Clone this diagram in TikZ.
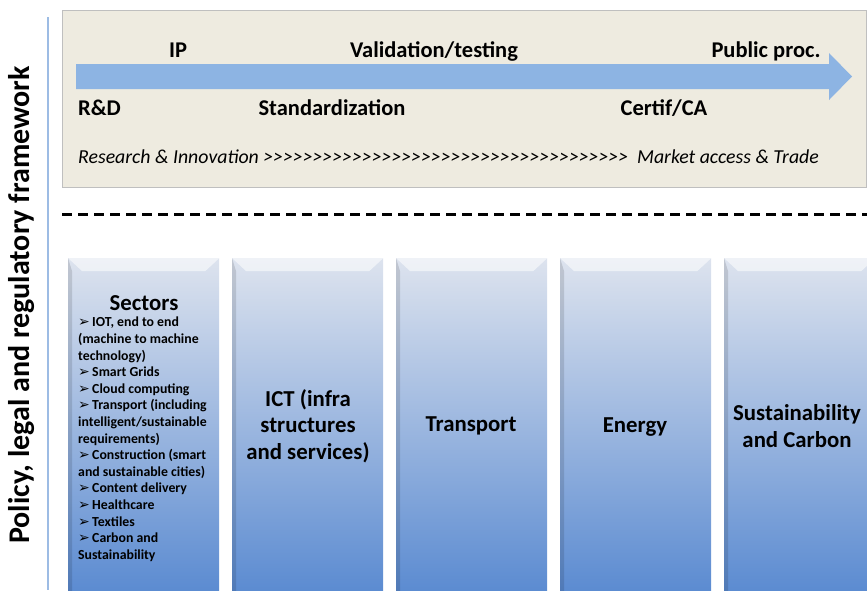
\documentclass[tikz,border=0pt]{standalone}
\usepackage{fontspec}
\setmainfont{Carlito}
\newfontfamily\symfont{DejaVu Sans}
\usetikzlibrary{positioning}

\definecolor{panelfill}{HTML}{EEEBE0}
\definecolor{panelline}{HTML}{BFBFBF}
\definecolor{arrowblue}{HTML}{8DB4E3}
\definecolor{railblue}{HTML}{9DBCE4}
\definecolor{coltop}{HTML}{DDE3EE}
\definecolor{colmid}{HTML}{C2D1EA}
\definecolor{colbot}{HTML}{5B8BD1}

\def\stages{{(178,57)/ip/IP}, {(434,57)/valid/{Validation/testing}}, {(766,57)/public/Public proc.}, {(332,115)/standard/Standardization}, {(664,115)/certif/{Certif/CA}}}
\def\columns{{68/sectors}, {232/ict}, {396/transport}, {560/energy}, {724/carbon}}
\newcommand{\tick}{{\symfont\fontsize{14}{14}\selectfont ➢}\,}
% braces keep the chevrons from turning into guillemets
\def\chevrons{>{}>{}>{}>{}>{}>{}>{}>{}>{}>{}>{}>{}>{}>{}>{}>{}>{}>{}>{}>{}>{}>{}>{}>{}>{}>{}>{}>{}>{}>{}>{}>{}>{}>{}>{}>{}>}

\tikzstyle{panel}=[rectangle, draw=panelline, line width=1pt, fill=panelfill, minimum width=804pt, minimum height=177pt, anchor=north west]
\tikzstyle{stage}=[font=\bfseries\fontsize{22.5}{26}\selectfont, inner sep=0pt, anchor=base]
\tikzstyle{journey}=[font=\itshape\fontsize{19.8}{22}\selectfont, inner sep=0pt, anchor=base west]
\tikzstyle{divider}=[draw, line width=3pt, dash pattern=on 10pt off 6pt]
\tikzstyle{column}=[rectangle, minimum width=151pt, minimum height=334pt, inner sep=0pt, top color=coltop, middle color=colmid, bottom color=colbot, draw=none, anchor=north west]
\tikzstyle{column title}=[font=\bfseries\fontsize{22.8}{26.5}\selectfont, align=center, inner sep=0pt]
\tikzstyle{sector list}=[font=\bfseries\fontsize{13.8}{16.6}\selectfont, align=left, inner sep=0pt, anchor=north west]
\tikzstyle{bevel}=[fill=white, opacity=0.55]
\tikzstyle{shadow edge}=[fill=black, opacity=0.12]

\begin{document}
\begin{tikzpicture}[x=1pt, y=-1pt]
  \useasboundingbox (0,0) rectangle (867,590);

  % The side rail and its label
  \coordinate (railtop) at (48,17);
  \coordinate (railbot) at (48,590);
  \draw[railblue, line width=1.2pt] (railtop) -- (railbot);
  \node[font=\bfseries\fontsize{30}{34}\selectfont, rotate=90, inner sep=0pt] (policy) at (22,305) {Policy, legal and regulatory framework};

  % The upper panel with the arrow
  \node[panel] (panel) at (62,10) {};
  \fill[arrowblue] (76,64) -- (829,64) -- (829,53) -- (852,76.5) -- (829,100) -- (829,89) -- (76,89) -- cycle;

  \foreach \pos/\name/\txt in \stages {
    \node[stage] (\name) at \pos {\txt};
  }
  \node[stage, anchor=base west] (rnd) at (78,115) {R\&D};
  \node[journey] (journey) at (78,163) {Research \& Innovation \chevrons\ \ Market access \& Trade};

  % The dashed divider
  \coordinate (divleft) at (62,214);
  \coordinate (divright) at (867,214);
  \path[divider] (divleft) -- (divright);

  % The columns
  \foreach \x/\name in \columns {
    \node[column] (\name) at (\x,258) {};
    \fill[bevel] (\name.north west) -- (\name.north east) -- ([xshift=-14pt,yshift=-13pt]\name.north east) -- ([xshift=14pt,yshift=-13pt]\name.north west) -- cycle;
    \fill[shadow edge] (\name.north west) -- ([xshift=4pt,yshift=-13pt]\name.north west) -- ([xshift=4pt]\name.south west) -- (\name.south west) -- cycle;
  }

  \node[column title, anchor=base] (sectorstitle) at (144,310) {Sectors};
  \node[sector list] (sectorlist) at (78,317) {\tick IOT, end to end\\(machine to machine\\technology)\\\tick Smart Grids\\\tick Cloud computing\\\tick Transport (including\\intelligent/sustainable\\requirements)\\\tick Construction (smart\\and sustainable cities)\\\tick Content delivery\\\tick Healthcare\\\tick Textiles\\\tick Carbon and\\Sustainability};
  \node[column title] (icttitle) at (308,426) {ICT (infra\\structures\\and services)};
  \node[column title] (transporttitle) at (471,426) {Transport};
  \node[column title] (energytitle) at (635,427) {Energy};
  \node[column title] (carbontitle) at (797,426) {Sustainability\\and Carbon};
\end{tikzpicture}
\end{document}
